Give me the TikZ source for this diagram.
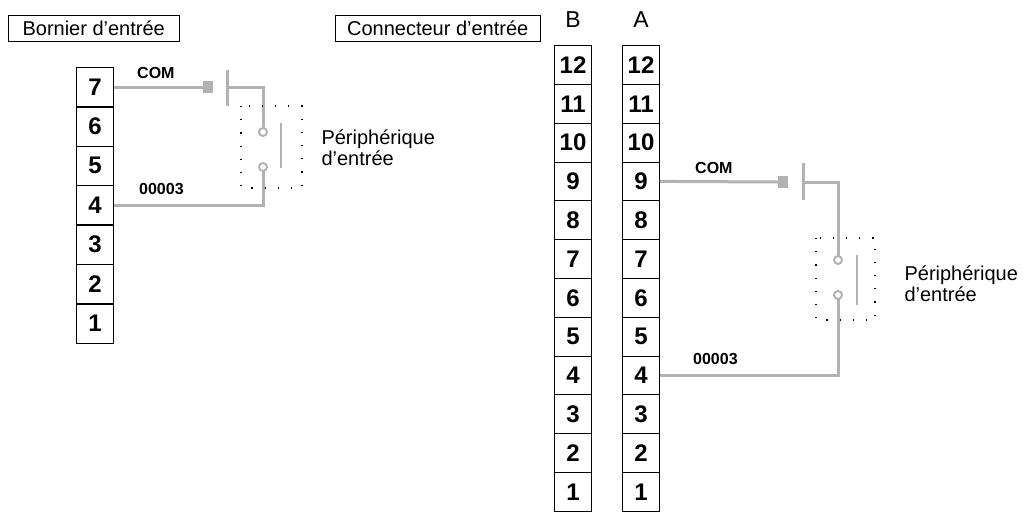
\documentclass[tikz,border=0pt]{standalone}
\usepackage{fontspec}
\setmainfont{Liberation Sans}
\usetikzlibrary{positioning,calc}
\tikzset{
  cell/.style={draw,thick,minimum width=37pt,minimum height=39pt,inner sep=0pt,font=\fontsize{24}{24}\selectfont\bfseries},
  tag/.style={draw,inner sep=0pt,minimum height=26pt,font=\fontsize{20}{20}\selectfont},
  wire/.style={gray!60,line width=3pt},
  dots/.style={dash pattern=on 1.2pt off 12pt,line width=1.2pt},
  lbl/.style={font=\fontsize{16}{16}\selectfont\bfseries,anchor=south west,inner sep=1pt}
}
\begin{document}
\begin{tikzpicture}[x=1pt,y=-1pt]
\useasboundingbox (0,0) rectangle (1034,520);
% titles
\node[tag,minimum width=171pt,anchor=north west] (t1) at (8,15) {Bornier d'entrée};
\node[tag,minimum width=205pt,anchor=north west] (t2) at (335,15) {Connecteur d'entrée};
\node[font=\fontsize{23}{23}\selectfont] (hb) at (573,20) {B};
\node[font=\fontsize{23}{23}\selectfont] (ha) at (641,20) {A};
% terminal block
\foreach \i [count=\k from 0] in {7,6,5,4,3,2,1}
  \node[cell] (l\i) at (95,{87+39.4*\k}) {\i};
% connector
\foreach \i [count=\k from 0] in {12,11,...,1}{
  \node[cell,minimum height=38.8pt] (b\i) at (573,{65+38.8*\k}) {\i};
  \node[cell,minimum height=38.8pt] (a\i) at (641,{65+38.8*\k}) {\i};
}
% left device
\coordinate (lc1) at (203,87);
\coordinate (lk) at (263,132);
\coordinate (lk2) at (263,167);
\draw[wire] (l7.east) -- (lc1);
\fill[gray!60] (203,81) rectangle (213,93);
\draw[wire] (227,70) -- (227,106);
\draw[wire] (227,87) -| ($(lk)+(0,-4)$);
\draw[wire,line width=2pt] (lk) circle (4);
\draw[wire,line width=2pt] (lk2) circle (4);
\draw[wire] ($(lk2)+(0,4)$) |- (l4.east);
\draw[wire,line width=2pt] (281,123) -- (281,168);
\draw[dots] (241,106) rectangle (302,188);
\node[lbl] at (136,80) {COM};
\node[lbl] at (138,196) {00003};
\node[align=left,anchor=west,font=\fontsize{20}{21}\selectfont] (p1) at (318,148) {Périphérique\\d'entrée};
% right device
\coordinate (rc1) at (778,182);
\coordinate (rk) at (838,260);
\coordinate (rk2) at (838,295);
\draw[wire] (a9.east) -- (rc1);
\fill[gray!60] (778,176) rectangle (788,188);
\draw[wire] (803,163) -- (803,200);
\draw[wire] (803,182) -| ($(rk)+(0,-4)$);
\draw[wire,line width=2pt] (rk) circle (4);
\draw[wire,line width=2pt] (rk2) circle (4);
\draw[wire] ($(rk2)+(0,4)$) |- (a4.east);
\draw[wire,line width=2pt] (857,255) -- (857,305);
\draw[dots] (816,238) rectangle (875,320);
\node[lbl] at (694,175) {COM};
\node[lbl] at (692,366) {00003};
\node[align=left,anchor=west,font=\fontsize{20}{21}\selectfont] (p2) at (901,284) {Périphérique\\d'entrée};
\end{tikzpicture}
\end{document}
